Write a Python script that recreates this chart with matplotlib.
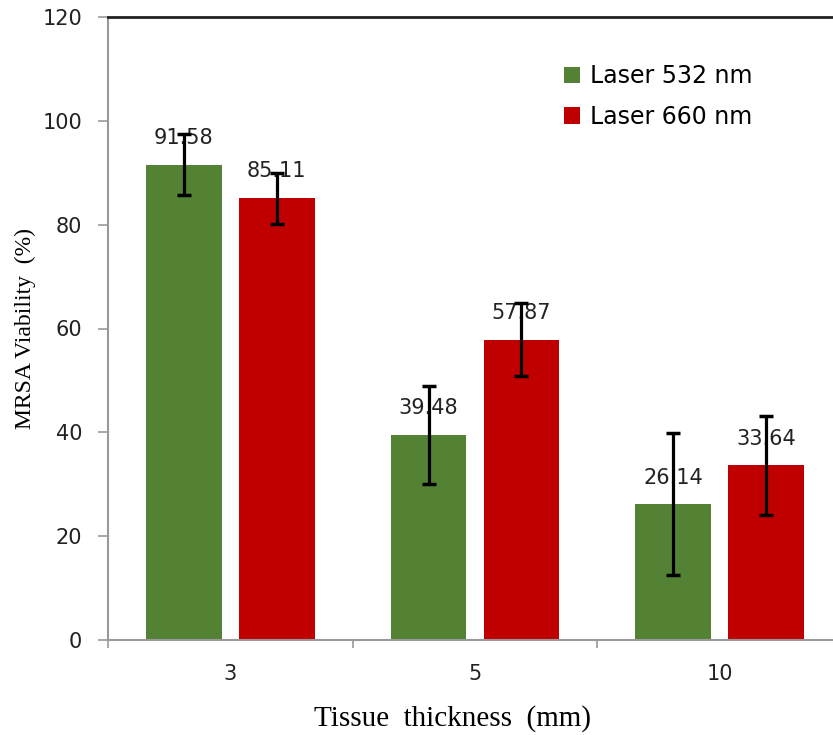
import matplotlib
matplotlib.use("Agg")
import matplotlib.pyplot as plt
import numpy as np

categories = ["3", "5", "10"]
series_names = ["Laser 532 nm", "Laser 660 nm"]
values_532 = [91.58, 39.48, 26.14]
values_660 = [85.11, 57.87, 33.64]
err_532 = [5.9, 9.5, 13.7]
err_660 = [4.9, 7.1, 9.5]
colors = ["#548235", "#C00000"]

W, H = 833, 735
fig = plt.figure(figsize=(W/100, H/100), dpi=100)
left = 108 / W
right = 842 / W
bottom = 1 - 640 / H
top = 1 - 17 / H
ax = fig.add_axes([left, bottom, right - left, top - bottom])

x = np.arange(len(categories))
bw = 0.31
off = 0.19
for vals, errs, col, name, sgn in [(values_532, err_532, colors[0], series_names[0], -1),
                                   (values_660, err_660, colors[1], series_names[1], 1)]:
    xs = x + sgn * off
    ax.bar(xs, vals, width=bw, color=col, label=name, zorder=2)
    ax.errorbar(xs, vals, yerr=errs, fmt="none", ecolor="black", elinewidth=2.3,
                capsize=5, capthick=2.5, zorder=4)
    for xi, v in zip(xs, vals):
        ax.annotate(f"{v:.2f}", (xi, v), xytext=(0, 12), textcoords="offset points",
                    ha="center", va="bottom", fontsize=15, color="#222222", zorder=3)

ax.set_xlim(-0.5, len(categories) - 0.5)
ax.set_ylim(0, 120)
ax.set_yticks(range(0, 121, 20))
ax.set_xticks(x)
ax.set_xticklabels(categories)
ax.set_xticks(np.arange(-0.5, len(categories), 1), minor=True)
ax.tick_params(axis="x", which="major", length=0, pad=17, labelsize=15, labelcolor="#222222")
ax.tick_params(axis="x", which="minor", length=6, color="#999999", width=1.2, direction="out")
ax.tick_params(axis="y", length=7.5, color="#999999", width=1.2, labelsize=15, labelcolor="#222222", pad=11)

for s in ["left", "bottom"]:
    ax.spines[s].set_color("#999999")
    ax.spines[s].set_linewidth(1.5)
ax.spines["top"].set_color("#222222")
ax.spines["top"].set_linewidth(2)
ax.spines["right"].set_visible(False)

ax.set_ylabel("MRSA Viability  (%)", family="Liberation Serif", fontsize=17, labelpad=5)
ax.set_xlabel("Tissue  thickness  (mm)", family="Liberation Serif", fontsize=21, labelpad=8)
ax.xaxis.set_label_coords(0.469, -0.105)

leg = ax.legend(loc="upper left", bbox_to_anchor=(0.592, 0.958), frameon=False, fontsize=17,
                handlelength=0.7, handleheight=0.7, handletextpad=0.4, labelspacing=0.7)

fig.savefig("out.png", dpi=100)
